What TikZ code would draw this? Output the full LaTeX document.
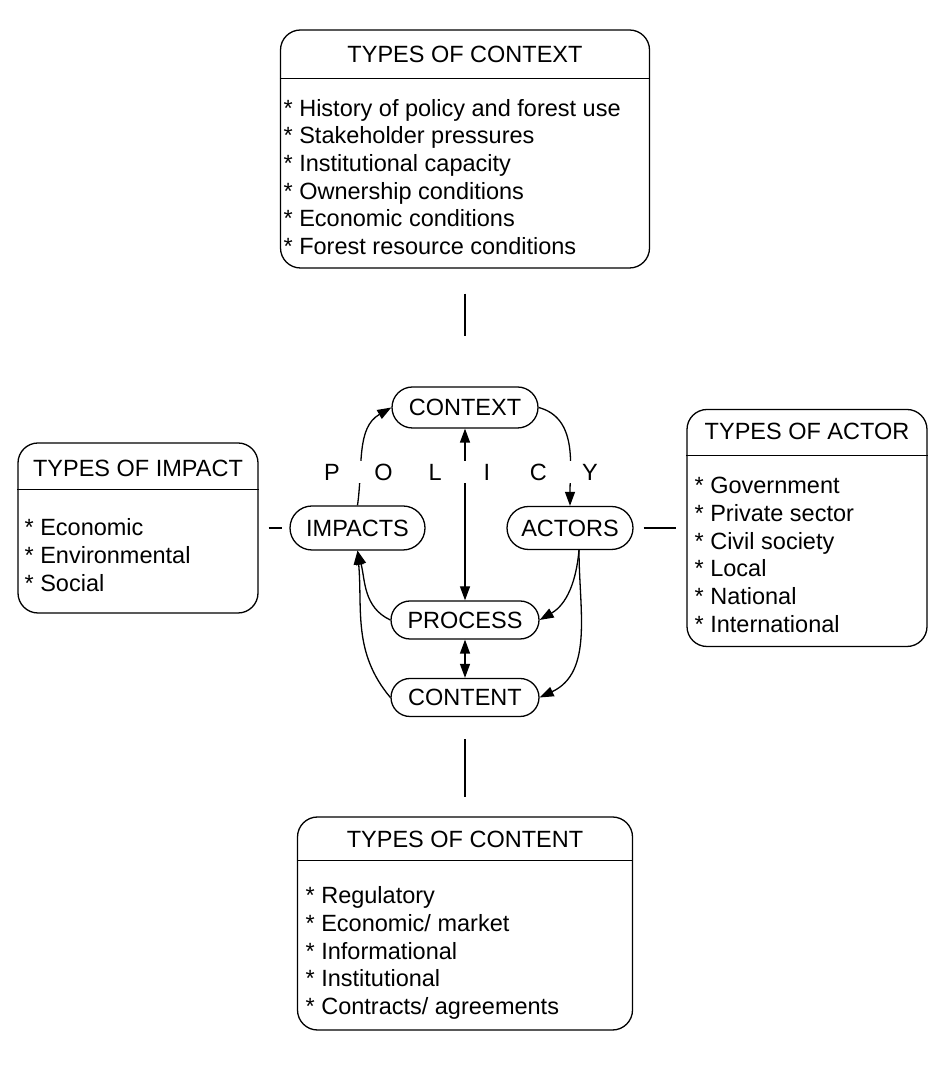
\documentclass[tikz,border=0pt]{standalone}
\usepackage{fontspec}
\setmainfont{Liberation Sans}
\usetikzlibrary{positioning,shapes.misc,arrows.meta}

\begin{document}
\begin{tikzpicture}[
  x=1pt, y=1pt,
  >={Triangle[length=14pt,width=10pt]},
  line width=1.3pt,
  every node/.style={font=\fontsize{23.5}{27.7}\selectfont},
  infobox/.style={draw, rounded corners=20pt, inner sep=0pt},
  hub/.style={draw, rounded rectangle, inner sep=0pt},
  itemlist/.style={align=left, anchor=west, inner sep=0pt}
]
  \useasboundingbox (0,0) rectangle (941,1073);

  % Outer boxes
  \node[infobox, minimum width=369pt, minimum height=238pt] (ctxbox) at (465,924) {};
  \node[infobox, minimum width=240pt, minimum height=170pt] (impbox) at (138,545) {};
  \node[infobox, minimum width=240pt, minimum height=237pt] (actbox) at (807,545) {};
  \node[infobox, minimum width=335pt, minimum height=213pt] (cntbox) at (465,149.5) {};

  % Box titles
  \node (ctxtitle) at (465,1019) {TYPES OF CONTEXT};
  \node (imptitle) at (138,605) {TYPES OF IMPACT};
  \node (acttitle) at (807,642) {TYPES OF ACTOR};
  \node (cnttitle) at (465,234) {TYPES OF CONTENT};

  \draw ([yshift=-49pt]ctxbox.north west) -- ([yshift=-49pt]ctxbox.north east);
  \draw ([yshift=-47pt]impbox.north west) -- ([yshift=-47pt]impbox.north east);
  \draw ([yshift=-47pt]actbox.north west) -- ([yshift=-47pt]actbox.north east);
  \draw ([yshift=-44pt]cntbox.north west) -- ([yshift=-44pt]cntbox.north east);

  % Box contents
  \node[itemlist] (ctxlist) at (283,896) {* History of policy and forest use\\
    * Stakeholder pressures\\* Institutional capacity\\* Ownership conditions\\
    * Economic conditions\\* Forest resource conditions};
  \node[itemlist] (implist) at (24,518) {* Economic\\* Environmental\\* Social};
  \node[itemlist] (actlist) at (694,518) {* Government\\* Private sector\\
    * Civil society\\* Local\\* National\\* International};
  \node[itemlist] (cntlist) at (305,120) {* Regulatory\\* Economic/ market\\
    * Informational\\* Institutional\\* Contracts/ agreements};

  % Policy cycle
  \node[hub, minimum width=146pt, minimum height=41pt] (ctx) at (465,665.5) {CONTEXT};
  \node[hub, minimum width=135pt, minimum height=44pt] (imp) at (357.5,545) {IMPACTS};
  \node[hub, minimum width=126pt, minimum height=43pt] (act) at (570,545) {ACTORS};
  \node[hub, minimum width=148pt, minimum height=38pt] (proc) at (465,453) {PROCESS};
  \node[hub, minimum width=148pt, minimum height=38pt] (cont) at (465,375.5) {CONTENT};

  \draw[->] (imp.north) to[out=82, in=210] (ctx.west);
  \draw[->] (ctx.east) to[out=-15, in=90] (act.north);
  \draw[<->] (ctx.south) -- (proc.north);
  \draw[<->] (proc.south) -- (cont.north);
  \draw[->] (proc.west) to[out=155, in=-75] (imp.south);
  \draw[->] (cont.west) to[out=130, in=-85] (imp.south);
  \draw[->] ([xshift=9pt]act.south) to[out=-95, in=30] (proc.east);
  \draw[->] ([xshift=9pt]act.south) to[out=-90, in=25] (cont.east);

  \node[fill=white, inner sep=3pt] (policy) at (461,601)
    {\makebox[51.6pt]{P}\makebox[51.6pt]{O}\makebox[51.6pt]{L}\makebox[51.6pt]{I}\makebox[51.6pt]{C}\makebox[51.6pt]{Y}};

  % Links to boxes
  \draw ([yshift=-25pt]ctxbox.south) -- ([yshift=50pt]ctx.north);
  \draw ([yshift=-22pt]cont.south) -- ([yshift=19pt]cntbox.north);
  \draw ([xshift=10pt]impbox.east) -- ([xshift=-7pt]imp.west);
  \draw ([xshift=10pt]act.east) -- ([xshift=-10pt]actbox.west);
\end{tikzpicture}
\end{document}
